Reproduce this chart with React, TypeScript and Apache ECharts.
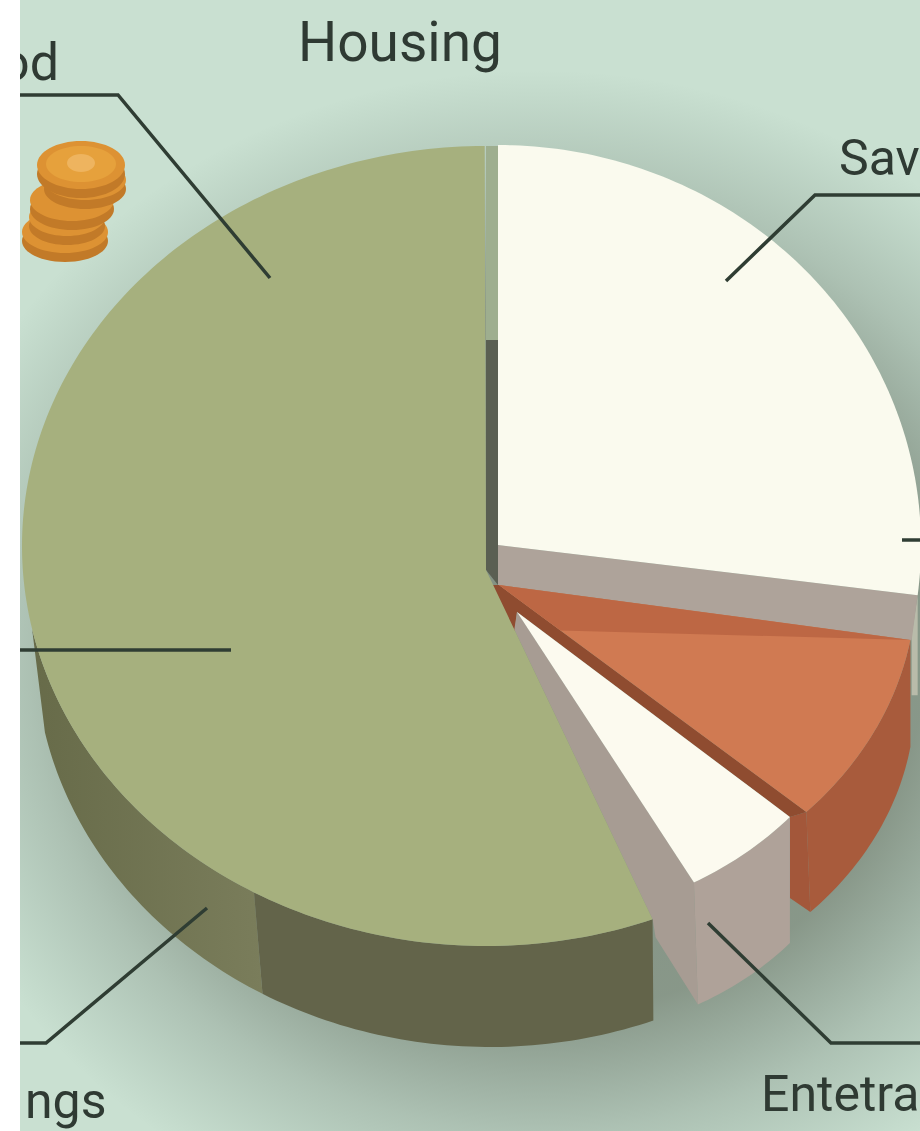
import React, { useEffect, useRef } from "react";
import * as echarts from "echarts";

// Shares of the pie, percent, as read from the arc spans.
const sliceNames = ["Savings", "Dining", "Entertainment", "Housing"];
const sliceValues = [27, 9.2, 5.4, 55.8];
const labelTexts = ["Housing", "od", "Sav", "Entetra", "ngs"];

type Geo = { cx: number; cy: number; ax: number; ay: number; rx: number; ry: number; rot: number };
const GEO: Geo[] = [
  { cx: 498, cy: 545, ax: 498, ay: 545, rx: 423, ry: 400, rot: 0 },
  { cx: 499, cy: 585, ax: 499, ay: 585, rx: 417, ry: 336, rot: 2.2 },
  { cx: 517, cy: 612, ax: 517, ay: 612, rx: 364.5, ry: 309.4, rot: 1.2 },
  { cx: 486, cy: 546, ax: 486, ay: 570, rx: 464, ry: 400, rot: 9.2 },
];
const GREEN_BOTTOM: Geo = { cx: 490, cy: 650, ax: 490, ay: 650, rx: 455, ry: 397, rot: 0 };

type P = [number, number];
const pt = (g: Geo, deg: number): P => {
  const t = (deg * Math.PI) / 180;
  return [g.cx + g.rx * Math.sin(t), g.cy - g.ry * Math.cos(t)];
};
const arc = (g: Geo, a0: number, a1: number): P[] => {
  const out: P[] = [];
  const n = Math.max(4, Math.ceil(Math.abs(a1 - a0)));
  for (let i = 0; i <= n; i++) out.push(pt(g, a0 + ((a1 - a0) * i) / n));
  return out;
};
const shift = (p: P, dx: number, dy: number): P => [p[0] + dx, p[1] + dy];
const lerp = (a: P, b: P, t: number): P => [a[0] + (b[0] - a[0]) * t, a[1] + (b[1] - a[1]) * t];
const poly = (points: P[], fill: any) => ({
  type: "polygon",
  shape: { points },
  style: { fill, stroke: null },
  silent: true,
});

const range = (i: number): [number, number] => {
  let s = 0;
  for (let k = 0; k < i; k++) s += sliceValues[k];
  return [s * 3.6 + GEO[i].rot, (s + sliceValues[i]) * 3.6 + GEO[i].rot];
};

const renderSlice = (params: any, api: any) => {
  const i = params.dataIndex;
  const g = GEO[i];
  const apex: P = [g.ax, g.ay];
  const [a0, a1] = range(i);
  const p0 = pt(g, a0);
  const p1 = pt(g, a1);
  const top = [apex, ...arc(g, a0, a1)];
  const c: any[] = [];
  if (i === 0) {
    // right-hand sliver and cut face of the savings wedge
    c.push(poly([p1, shift(p1, 0, 100), shift(p1, -6, 100), shift(p1, -6, 40)], "#b9bbaa"));
    c.push(poly([apex, p1, shift(p1, -6, 45), shift(apex, 0, 40)], "#aea39a"));
    c.push(poly(top, "#fafaee"));
  } else if (i === 1) {
    const whiteApex: P = [GEO[2].ax, GEO[2].ay];
    const w = pt(GEO[2], range(2)[0]);
    const outer = arc(g, a0, a1);
    const lower = outer.map((p, k, all) => shift(p, (4 * k) / (all.length - 1), 100 + 7 * (1 - k / (all.length - 1))));
    c.push(poly([...outer, ...lower.reverse()], "#a85b3c"));
    c.push(poly([p1, w, shift(w, 0, 81), shift(p1, 4, 100)], "#a3573a"));
    c.push(poly([apex, p1, w, whiteApex, shift(whiteApex, -3, 25), shift(apex, -10, 0)], "#8f4c30"));
    c.push(poly(top, "#d07a52"));
    c.push(poly([apex, p0, lerp(apex, p1, 0.2)], "#bd6744"));
  } else if (i === 2) {
    const gs = pt(GEO[3], range(3)[0]);
    const greenApex: P = [GEO[3].ax, GEO[3].ay];
    const outer = arc(g, a0, a1);
    const lower = outer.map((p, k, all) => {
      const t = k / (all.length - 1);
      return shift(p, 4 * t, 126 - 4 * t);
    });
    c.push(poly([apex, p1, shift(p1, 4, 122), shift(gs, 3, 18), gs, lerp(greenApex, gs, 0.17)], "#a79c93"));
    c.push(poly([...outer, ...lower.reverse()], "#afa299"));
    c.push(poly(top, "#fcfaef"));
  } else {
    // vertical notch between the two big wedges
    const t0 = pt(g, 360);
    c.push(poly([t0, [GEO[0].cx, t0[1]], [GEO[0].cx, 345], [t0[0], 345]], "#9eae8f"));
    c.push(poly([[t0[0], 340], [GEO[0].cx, 340], [GEO[0].cx, 585], apex], "#5a5f52"));
    const split = 210;
    const sideEnd = 258;
    c.push(
      poly(
        [...arc(g, split, sideEnd), ...arc(GREEN_BOTTOM, split, sideEnd).reverse()],
        new echarts.graphic.LinearGradient(1, 0, 0, 0, [
          { offset: 0, color: "#7a7d5b" },
          { offset: 1, color: "#676b49" },
        ])
      )
    );
    c.push(poly([...arc(g, a0, split), ...arc(GREEN_BOTTOM, a0, split).reverse()], "#63644a"));
    c.push(poly(top, "#a6b07e"));
  }
  return { type: "group", children: c };
};

const coin = (cx: number, cy: number, rx: number, ry: number, z: number) => [
  { type: "ellipse", z, shape: { cx, cy: cy + 9, rx, ry }, style: { fill: "#c27a28" } },
  { type: "ellipse", z, shape: { cx, cy, rx, ry }, style: { fill: "#dd9233" } },
];

const line = (points: P[]) => ({
  type: "polyline",
  z: 20,
  shape: { points },
  style: { stroke: "#2f3d33", lineWidth: 3.5, fill: null },
});
const label = (text: string, x: number, y: number, size: number) => ({
  type: "text",
  z: 20,
  x,
  y,
  style: { text, fontFamily: "Roboto", fontWeight: 400, fontSize: size, fill: "#2f3a33", align: "left", verticalAlign: "middle" },
});

export default function App() {
  const ref = useRef<HTMLDivElement>(null);
  useEffect(() => {
    document.body.style.margin = "0";
    const chart = echarts.init(ref.current!, undefined, { renderer: "svg" });
    chart.setOption({
      animation: false,
      graphic: {
        elements: [
          { type: "rect", z: -5, shape: { x: 20, y: 0, width: 900, height: 1131 }, style: { fill: "#c9e0d1" } },
          {
            type: "ellipse",
            z: -4,
            shape: { cx: 540, cy: 660, rx: 640, ry: 590 },
            style: {
              fill: new echarts.graphic.RadialGradient(0.5, 0.5, 0.5, [
                { offset: 0, color: "rgba(60,66,52,0.5)" },
                { offset: 0.6, color: "rgba(60,66,52,0.46)" },
                { offset: 0.8, color: "rgba(60,70,60,0.2)" },
                { offset: 1, color: "rgba(60,80,70,0)" },
              ]),
            },
          },
          ...coin(65, 232, 43, 21, -2),
          ...coin(67, 217, 38, 19, -2),
          ...coin(72, 200, 42, 21, -2),
          ...coin(85, 180, 41, 20, -2),
          ...coin(81, 165, 44, 24, -2),
          { type: "ellipse", z: -2, shape: { cx: 81, cy: 164, rx: 35, ry: 18 }, style: { fill: "#e6a13c" } },
          { type: "ellipse", z: -2, shape: { cx: 81, cy: 163, rx: 14, ry: 9 }, style: { fill: "#eeb45f" } },
          line([[20, 95], [118, 95], [270, 278]]),
          line([[920, 195], [815, 195], [726, 281]]),
          line([[20, 650], [231, 650]]),
          line([[20, 1043], [46, 1043], [207, 908]]),
          line([[708, 923], [831, 1043], [920, 1043]]),
          line([[902, 540], [920, 540]]),
          label(labelTexts[0], 298, 42, 55),
          label(labelTexts[1], 0, 62, 52),
          label(labelTexts[2], 839, 158, 50),
          label(labelTexts[3], 761, 1094, 50),
          label(labelTexts[4], 25, 1101, 50),
          { type: "rect", z: 30, shape: { x: 0, y: 0, width: 20, height: 1131 }, style: { fill: "#ffffff" } },
        ],
      },
      series: [
        {
          type: "custom",
          coordinateSystem: "none",
          silent: true,
          renderItem: renderSlice,
          data: sliceNames.map((name, i) => ({ name, value: [sliceValues[i]] })),
        },
      ],
    });
    return () => chart.dispose();
  }, []);
  return <div ref={ref} style={{ position: "fixed", left: 0, top: 0, width: 920, height: 1131 }} />;
}
